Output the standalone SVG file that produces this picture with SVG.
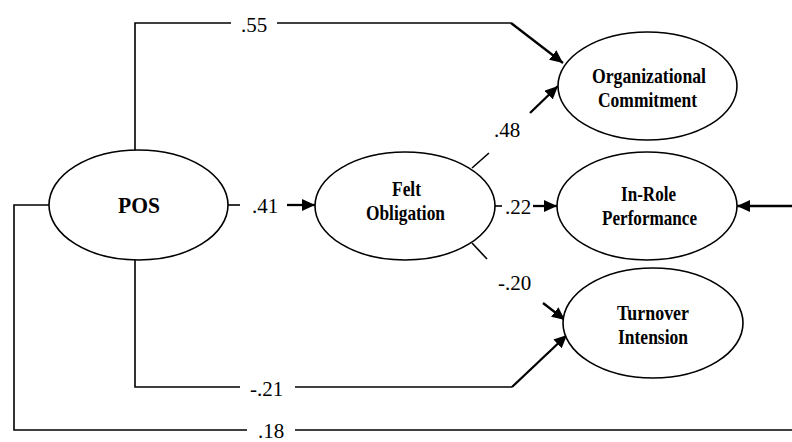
<svg xmlns="http://www.w3.org/2000/svg" width="792" height="442" viewBox="0 0 792 442">
<style>
.node ellipse{fill:#fff;stroke:#000;stroke-width:1.6}
text{font-family:'Liberation Serif','DejaVu Serif',serif}
.nt{font-weight:bold;font-size:21px;fill:#000;text-anchor:middle}
.el{font-size:21px;fill:#000}
.ln{fill:none;stroke:#000;stroke-width:1.6}
.ar{fill:none;stroke:#000;stroke-width:2.3;marker-end:url(#ah)}
</style>
<defs>
<marker id="ah" markerUnits="userSpaceOnUse" markerWidth="14" markerHeight="12" refX="13" refY="6" orient="auto">
<path d="M0,0 L13,6 L0,12 Z" fill="#000"/>
</marker>
</defs>
<rect width="792" height="442" fill="#fff"/>
<g id="connectors">
<g id="e-pos-oc">
<path class="ln" d="M135,150 V23 H231"/>
<path class="ln" d="M277,23 H511"/>
<path class="ar" d="M511,23 L563,63"/>
<text class="el" x="241" y="32" font-family="Liberation Serif, serif">.55</text>
</g>
<g id="e-pos-fo">
<path class="ln" d="M228,205 H240"/>
<path class="ar" d="M287,205 H315"/>
<text class="el" x="252" y="213">.41</text>
</g>
<g id="e-fo-ir">
<path class="ln" d="M495,206 H502"/>
<path class="ar" d="M533,206 H557"/>
<text class="el" x="505" y="214">.22</text>
</g>
<g id="e-fo-oc">
<path class="ln" d="M472,168 L489,153"/>
<path class="ar" d="M530,113 L558,86"/>
<text class="el" x="494" y="137">.48</text>
</g>
<g id="e-fo-ti">
<path class="ln" d="M472,243 L487,259"/>
<path class="ar" d="M543,303 L565,320"/>
<text class="el" x="498" y="290">-.20</text>
</g>
<g id="e-pos-ti">
<path class="ln" d="M135,260 V387 H240"/>
<path class="ln" d="M295,387 H512"/>
<path class="ar" d="M512,387 L567,335"/>
<text class="el" x="250" y="396">-.21</text>
</g>
<g id="e-pos-ir">
<path class="ln" d="M49,205 H14 V430 H247"/>
<path class="ln" d="M295,430 H800 V206"/>
<path class="ar" d="M800,206 H737"/>
<text class="el" x="258" y="438">.18</text>
</g>
</g>
<g id="pos" class="node">
<ellipse cx="138.5" cy="205" rx="89.5" ry="55"/>
<text class="nt" x="139" y="213" style="font-size:23px" textLength="42" lengthAdjust="spacingAndGlyphs">POS</text>
</g>
<g id="felt" class="node">
<ellipse cx="405" cy="206" rx="90" ry="54"/>
<text class="nt" x="406.5" y="196" textLength="29" lengthAdjust="spacingAndGlyphs">Felt</text>
<text class="nt" x="405.5" y="220" textLength="79" lengthAdjust="spacingAndGlyphs">Obligation</text>
</g>
<g id="oc" class="node">
<ellipse cx="647.5" cy="86" rx="89.5" ry="54"/>
<text class="nt" x="649" y="83" textLength="114" lengthAdjust="spacingAndGlyphs">Organizational</text>
<text class="nt" x="647.5" y="107" textLength="99" lengthAdjust="spacingAndGlyphs">Commitment</text>
</g>
<g id="ir" class="node">
<ellipse cx="647" cy="206" rx="90" ry="54"/>
<text class="nt" x="648.5" y="201" textLength="55" lengthAdjust="spacingAndGlyphs">In-Role</text>
<text class="nt" x="649.5" y="225" textLength="95" lengthAdjust="spacingAndGlyphs">Performance</text>
</g>
<g id="ti" class="node">
<ellipse cx="653" cy="323" rx="90" ry="55"/>
<text class="nt" x="653" y="320" textLength="72" lengthAdjust="spacingAndGlyphs">Turnover</text>
<text class="nt" x="653" y="344" textLength="70" lengthAdjust="spacingAndGlyphs">Intension</text>
</g>
</svg>
